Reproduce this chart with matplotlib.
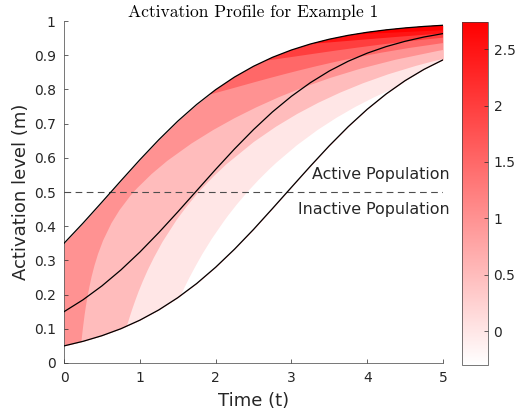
import matplotlib
matplotlib.use("Agg")
import matplotlib.pyplot as plt
from matplotlib.colors import LinearSegmentedColormap, Normalize
from matplotlib.cm import ScalarMappable

# time grid and the three activation curves
t = [0, 0.25, 0.5, 0.75, 1, 1.25, 1.5, 1.75, 2, 2.25, 2.5, 2.75, 3, 3.25, 3.5, 3.75, 4, 4.25, 4.5, 4.75, 5]
m_low = [0.0500, 0.0633, 0.0798, 0.1002, 0.1252, 0.1552, 0.1909, 0.2324, 0.2800, 0.3330, 0.3906,
         0.4517, 0.5138, 0.5756, 0.6354, 0.6913, 0.7420, 0.7868, 0.8257, 0.8588, 0.8865]
m_mid = [0.1500, 0.1847, 0.2254, 0.2720, 0.3242, 0.3812, 0.4416, 0.5038, 0.5660, 0.6261, 0.6825,
         0.7342, 0.7799, 0.8197, 0.8539, 0.8825, 0.9060, 0.9252, 0.9407, 0.9533, 0.9632]
m_high = [0.3500, 0.4088, 0.4703, 0.5327, 0.5941, 0.6527, 0.7071, 0.7560, 0.7992, 0.8363, 0.8677,
          0.8939, 0.9153, 0.9328, 0.9469, 0.9582, 0.9671, 0.9742, 0.9798, 0.9842, 0.9876]

# contour edges of the log-density field (level 0, 0.5, 1 sit on the lower curve)
edge_00_t = [1.541, 1.595, 1.658, 1.733, 1.825, 1.950, 2.107, 2.167, 2.281, 2.419, 2.571, 2.717,
             2.805, 3.074, 3.348, 3.600, 3.845, 4.092, 4.348]
edge_00_m = [0.1972, 0.2230, 0.2510, 0.2822, 0.3183, 0.3631, 0.4136, 0.4317, 0.4638, 0.5000, 0.5362,
             0.5683, 0.5864, 0.6369, 0.6817, 0.7178, 0.7490, 0.7770, 0.8028]
edge_05_t = [0.829, 0.862, 0.898, 0.939, 0.985, 1.040, 1.105, 1.188, 1.299, 1.488, 1.602, 1.747, 1.778,
             1.809, 1.980, 2.142, 2.503, 2.797, 3.076, 3.354, 3.642, 3.946, 4.276, 4.641, 4.843, 5.0]
edge_05_m = [0.1076, 0.1313, 0.1559, 0.1819, 0.2095, 0.2392, 0.2718, 0.3090, 0.3540, 0.4190, 0.4529,
             0.4923, 0.5000, 0.5077, 0.5471, 0.5810, 0.6461, 0.6910, 0.7282, 0.7608, 0.7905, 0.8181,
             0.8441, 0.8687, 0.8807, 0.8890]
edge_10_t = [0.230, 0.242, 0.256, 0.271, 0.289, 0.310, 0.335, 0.364, 0.401, 0.449, 0.516, 0.626, 0.733,
             0.876, 0.919, 0.964, 1.157, 1.363, 1.681, 1.968, 2.249, 2.536, 2.836, 3.159, 3.513, 3.910,
             4.372, 4.932, 5.0]
edge_10_m = [0.0621, 0.0875, 0.1133, 0.1395, 0.1664, 0.1940, 0.2226, 0.2525, 0.2842, 0.3188, 0.3583,
             0.4088, 0.4472, 0.4891, 0.5000, 0.5110, 0.5528, 0.5912, 0.6417, 0.6812, 0.7158, 0.7475,
             0.7774, 0.8060, 0.8336, 0.8605, 0.8867, 0.9125, 0.9152]
# levels 1.5 .. 3 start on the upper curve
edge_15_t = [1.910, 2.048, 2.196, 2.353, 2.522, 2.702, 2.896, 3.106, 3.335, 3.586, 3.866, 4.182, 4.546,
             4.977, 5.0]
edge_15_m = [0.7842, 0.7925, 0.8015, 0.8112, 0.8216, 0.8325, 0.8439, 0.8558, 0.8682, 0.8809, 0.8939,
             0.9073, 0.9209, 0.9348, 0.9355]
edge_20_t = [2.649, 2.841, 3.053, 3.288, 3.552, 3.852, 4.199, 4.610, 4.934, 5.0]
edge_20_m = [0.8839, 0.8897, 0.8964, 0.9040, 0.9125, 0.9217, 0.9317, 0.9424, 0.9498, 0.9513]
edge_25_t = [3.258, 3.444, 3.648, 3.876, 4.131, 4.421, 4.758, 5.0]
edge_25_m = [0.9333, 0.9364, 0.9401, 0.9443, 0.9489, 0.9541, 0.9598, 0.9636]
edge_30_t = [3.816, 4.064, 4.346, 4.674, 5.0]
edge_30_m = [0.9607, 0.9632, 0.9662, 0.9697, 0.9731]

c_min, c_max = -0.3, 2.74
cbar_ticks = [0, 0.5, 1, 1.5, 2, 2.5]
cbar_labels = ["0", "0.5", "1", "1.5", "2", "2.5"]
y_ticks = [0, 0.1, 0.2, 0.3, 0.4, 0.5, 0.6, 0.7, 0.8, 0.9, 1]
y_labels = ["0", "0.1", "0.2", "0.3", "0.4", "0.5", "0.6", "0.7", "0.8", "0.9", "1"]

cmap = LinearSegmentedColormap.from_list("whitered", ["#ffffff", "#ff0000"])
norm = Normalize(vmin=c_min, vmax=c_max)

def band(level):
    return cmap(norm(min(max(level, c_min), c_max)))

def below_edge(et, em):
    # region between an edge and the lower curve
    pts = list(zip(et, em))
    back = [(ti, mi) for ti, mi in zip(t, m_low) if et[0] < ti <= et[-1]]
    return pts + back[::-1]

def above_edge(et, em):
    # region between an edge and the upper curve
    pts = list(zip(et, em))
    back = [(ti, mi) for ti, mi in zip(t, m_high) if et[0] < ti <= 5]
    return pts + back[::-1]

fig = plt.figure(figsize=(5.17, 4.17), dpi=100)
ax = fig.add_axes([0.1238, 0.1295, 0.7331, 0.8201])
cax = fig.add_axes([0.8936, 0.1247, 0.0503, 0.8225])

ax.fill_between(t, m_low, m_high, color=band(1.0), lw=0, zorder=1)
for et, em, lev in [(edge_10_t, edge_10_m, 0.5), (edge_05_t, edge_05_m, 0.0), (edge_00_t, edge_00_m, c_min)]:
    ax.add_patch(plt.Polygon(below_edge(et, em), closed=True, facecolor=band(lev), lw=0, zorder=1))
for et, em, lev in [(edge_15_t, edge_15_m, 1.5), (edge_20_t, edge_20_m, 2.0),
                    (edge_25_t, edge_25_m, 2.5), (edge_30_t, edge_30_m, 3.0)]:
    ax.add_patch(plt.Polygon(above_edge(et, em), closed=True, facecolor=band(lev), lw=0, zorder=1))

ax.plot([0, 5], [0.5, 0.5], color="#4d4d4d", lw=0.8, ls=(0, (6, 4)), zorder=2)
for m in (m_low, m_mid, m_high):
    ax.plot(t, m, color="black", lw=0.9, zorder=3)

ax.text(5.09, 0.55, "Active Population", ha="right", va="center", fontsize=11.4, color="#262626")
ax.text(5.09, 0.45, "Inactive Population", ha="right", va="center", fontsize=11.4, color="#262626")

ax.set_xlim(0, 5)
ax.set_ylim(0, 1)
ax.set_xticks([0, 1, 2, 3, 4, 5])
ax.set_yticks(y_ticks)
ax.set_yticklabels(y_labels)
for side in ("top", "right"):
    ax.spines[side].set_visible(False)
for side in ("left", "bottom"):
    ax.spines[side].set_color("#404040")
    ax.spines[side].set_linewidth(0.5)
ax.tick_params(direction="in", length=3, width=0.5, colors="#262626", labelsize=10, pad=6)
ax.set_xlabel("Time (t)", fontsize=13, color="#262626", labelpad=5)
ax.set_ylabel("Activation level (m)", fontsize=13, color="#262626", labelpad=3)
ax.set_title("Activation Profile for Example 1", fontfamily="cmr10", fontsize=12.6, pad=3)

cb = fig.colorbar(ScalarMappable(norm=norm, cmap=cmap), cax=cax)
cb.set_ticks(cbar_ticks)
cb.set_ticklabels(cbar_labels)
cb.outline.set_edgecolor("#404040")
cb.outline.set_linewidth(0.5)
cb.ax.tick_params(direction="in", length=3, width=0.5, colors="#262626", labelsize=10, pad=4)

fig.savefig("out.png", dpi=100)
